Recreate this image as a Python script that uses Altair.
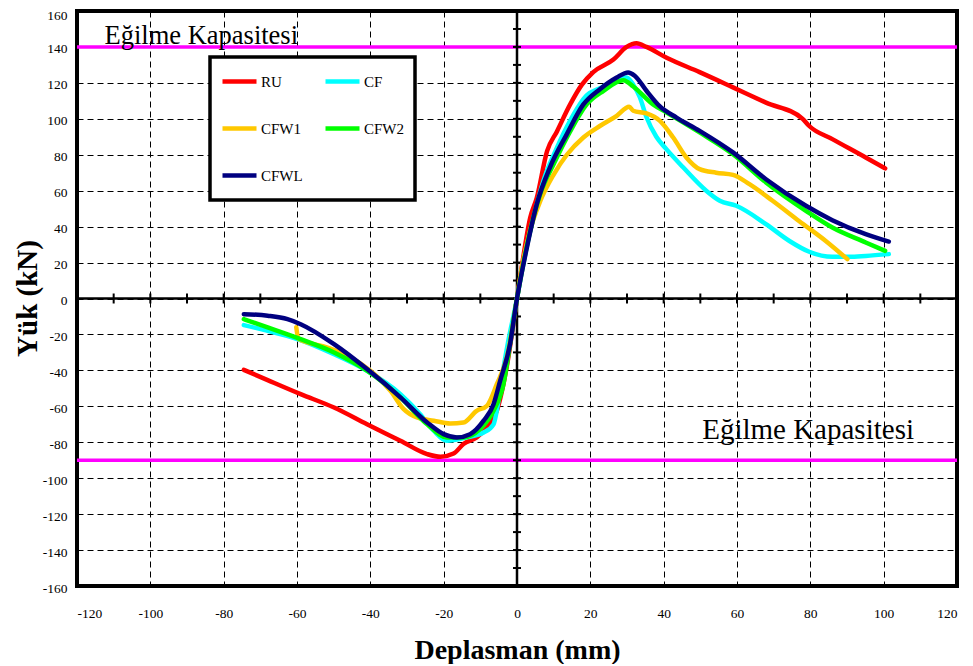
import altair as alt
import pandas as pd

# ---------------- data ----------------
series = ["RU", "CF", "CFW1", "CFW2", "CFWL"]
colors = ["#FF0000", "#00FFFF", "#FFC800", "#00FF00", "#000080"]

ru_x = [-74.5, -68, -59, -49.9, -40.9, -31.8, -24.5, -20.9, -17.3, -14.6, -11, -8.2, -5.5, -2.8, 0,
        1.4, 3.6, 5.4, 8.2, 10.9, 14.5, 17.7, 20.8, 26.3, 29.9, 32.6, 35.3, 40.8, 49.8, 58.9, 67.9,
        77.9, 79.7, 86, 95.1, 100.4]
ru_y = [-39.7, -45.4, -53.2, -60.7, -70, -79.2, -86.6, -88.1, -86.3, -81, -77.3, -71.8, -62.5, -38, 0,
        19, 45, 56, 82, 93, 108, 119, 126, 133, 140, 142, 140, 134, 126, 117.5, 109,
        100, 96, 88.7, 78.5, 72.4]

cf_x = [-74.5, -68, -59.9, -49.9, -40.9, -31.8, -26.4, -22.7, -19.1, -13.7, -9.1, -6.4, -5.3, -4.2, -2.5, 0,
        1.8, 4.5, 7.2, 10.9, 14.5, 19, 22.6, 26.3, 29.9, 31.7, 33.5, 35.3, 38, 40.8, 45.3, 51.6, 55.3,
        59.8, 67.9, 74.3, 79.7, 86, 90.6, 95.1, 101.4]
cf_y = [-14.8, -18, -22.6, -31, -40.2, -53.2, -64.4, -73.6, -79.2, -77.3, -74.6, -70, -60, -45, -25, 0,
        21, 45, 65.5, 84, 99, 113, 117, 121, 123, 119, 112, 101, 90, 83, 73, 60, 54.4,
        51.6, 41.4, 32, 26, 23.2, 23.2, 23.7, 24.7]

cfw1_x = [-60.2, -59.6, -51.7, -45.4, -40, -34.5, -30.9, -27.3, -22.7, -18.2, -14.6, -11, -8.2, -5.5, -2.8, 0,
          0.9, 3.6, 6.3, 10, 13.6, 18.1, 22.6, 27.2, 30.6, 31.7, 35.3, 38.9, 42.6, 46.2, 49.8, 54.3,
          58.9, 63.4, 69.7, 77, 84.2, 90.1]
cfw1_y = [-16, -22.5, -27.3, -32.8, -40.2, -51.4, -61.6, -66.2, -68, -69.6, -69, -62.5, -59.7, -47.7, -32.8, 0,
          12, 38, 54, 69, 80, 89.6, 96, 101.7, 106.7, 104.5, 103, 99, 89.6, 78.5, 72, 70,
          68.8, 63.6, 54.4, 43, 32, 21.9]

cfw2_x = [-74.5, -68, -59, -49.9, -40.9, -31.8, -24.5, -19.1, -14.6, -10.1, -6.4, -3.7, -1.8, 0,
          1.8, 3.6, 6.3, 10, 14.5, 19, 23.6, 29, 31.7, 37.1, 40.8, 49.8, 58.9, 67.9, 78.8, 86, 95.1, 100.4]
cfw2_y = [-11.5, -16.1, -22.6, -30, -40.2, -55, -70, -77.3, -77.3, -72.7, -62.5, -47.7, -24, 0,
          20, 37.7, 58, 74.8, 93, 108, 115.6, 121.5, 118, 108, 103.5, 92.4, 80.3, 64.6, 48.8, 39.5, 31.2, 26.5]

cfwl_x = [-74.5, -68, -62.6, -59, -49.9, -40.9, -31.8, -24.5, -20, -16.4, -12.8, -9.1, -6.4, -4.6, -1.9, 0,
          2.7, 5.4, 9, 13.6, 18.1, 22.6, 27.2, 30.3, 32.1, 35.3, 38.9, 43.5, 49.8, 58.9, 67.9, 78.8, 86,
          95.1, 101.4]
cfwl_y = [-8.7, -9.6, -11.5, -14.3, -25.4, -39.3, -55, -69, -75.5, -77.3, -75.5, -68, -58.8, -45.8, -25.4, 0,
          28.4, 52.5, 73, 91.5, 108, 116.5, 123, 125.8, 124, 115.6, 107, 100.7, 93.3, 81.3, 66.4, 51.6, 43.6,
          35.8, 31.7]

capacity = [140, -90]
capacity_label = "Eğilme Kapasitesi"

x_ticks = list(range(-120, 121, 20))
y_ticks = list(range(-160, 161, 20))
x_minor = list(range(-110, 111, 10))
y_minor = list(range(-150, 151, 10))

# ---------------- tables ----------------
rows = []
for name, xs, ys in [("RU", ru_x, ru_y), ("CF", cf_x, cf_y), ("CFW1", cfw1_x, cfw1_y),
                     ("CFW2", cfw2_x, cfw2_y), ("CFWL", cfwl_x, cfwl_y)]:
    for i, (xv, yv) in enumerate(zip(xs, ys)):
        rows.append({"series": name, "x": xv, "y": yv, "i": i})
df = pd.DataFrame(rows)

FONT = "Liberation Serif"
xscale = alt.Scale(domain=[-120, 120], nice=False, zero=False)
yscale = alt.Scale(domain=[-160, 160], nice=False, zero=False)

xaxis = alt.Axis(values=x_ticks, title="Deplasman (mm)", grid=True, gridDash=[6, 4], gridColor="black",
                 gridWidth=1, gridOpacity=1, ticks=False, domain=False, labelFont=FONT, labelFontSize=13.5,
                 labelColor="black", labelPadding=20, labelOverlap=False, labelExpr="'' + datum.value",
                 titleFont=FONT, titleFontSize=28,
                 titleFontWeight="bold", titleColor="black", titleBaseline="alphabetic",
                 titleAlign="center", titleY=72, titleX=440)
yaxis = alt.Axis(values=y_ticks, title="Yük (kN)", grid=True, gridDash=[6, 4], gridColor="black",
                 gridWidth=1, gridOpacity=1, ticks=False, domain=False, labelFont=FONT, labelFontSize=13.5,
                 labelColor="black", labelPadding=10, labelOverlap=False, labelSeparation=0,
                 labelOffset={"condition": {"test": "datum.value == 160", "value": 4}, "value": 2},
                 labelExpr="'' + datum.value",
                 titleFont=FONT, titleFontSize=29,
                 titleFontWeight="bold", titleColor="black", titleBaseline="alphabetic",
                 titleAlign="center", titleX=-41, titleY=287)


def X(field):
    return alt.X(field, scale=xscale, axis=xaxis, title="Deplasman (mm)")


def Y(field):
    return alt.Y(field, scale=yscale, axis=yaxis, title="Yük (kN)")


def XD(v):
    return alt.XDatum(v, type="quantitative", scale=xscale, axis=xaxis, title="Deplasman (mm)")


def YD(v):
    return alt.YDatum(v, type="quantitative", scale=yscale, axis=yaxis, title="Yük (kN)")


lines = alt.Chart(df).mark_line(strokeWidth=4.5, interpolate="monotone", strokeCap="round",
                                strokeJoin="round").encode(
    x=X("x:Q"),
    y=Y("y:Q"),
    color=alt.Color("series:N", sort=series, scale=alt.Scale(domain=series, range=colors),
                    legend=alt.Legend(title=None, orient="none", legendX=133, legendY=46,
                                      columns=2, direction="horizontal", symbolType="stroke",
                                      symbolSize=1156, symbolStrokeWidth=4.5, labelFont=FONT,
                                      labelFontSize=15, labelColor="black", strokeColor="black",
                                      fillColor="white", padding=10, rowPadding=18,
                                      columnPadding=20, clipHeight=29, labelOffset=2)),
    order=alt.Order("i:Q"),
)

cap_df = pd.DataFrame({"cap": capacity})
cap_rules = alt.Chart(cap_df).mark_rule(color="#FF00FF", strokeWidth=3.5).encode(y=Y("cap:Q"))

zero_df = pd.DataFrame({"z": [0]})
zero_h = alt.Chart(zero_df).mark_rule(color="black", strokeWidth=2.5).encode(y=Y("z:Q"))
zero_v = alt.Chart(zero_df).mark_rule(color="black", strokeWidth=2.5).encode(x=X("z:Q"))

xm_df = pd.DataFrame({"v": x_minor})
ym_df = pd.DataFrame({"v": y_minor})
x_minor_ticks = alt.Chart(xm_df).mark_tick(orient="vertical", size=10, thickness=2, color="black",
                                           opacity=1).encode(x=X("v:Q"), y=YD(0))
y_minor_ticks = alt.Chart(ym_df).mark_tick(orient="horizontal", size=8, thickness=2, color="black",
                                           opacity=1).encode(x=XD(0), y=Y("v:Q"))

txt_top = alt.Chart(zero_df).mark_text(text=capacity_label, font=FONT, fontSize=26.5, align="left",
                                       baseline="alphabetic", color="black").encode(
    x=XD(-112.5), y=YD(141.7))
txt_bot = alt.Chart(zero_df).mark_text(text=capacity_label, font=FONT, fontSize=29, align="left",
                                       baseline="alphabetic", color="black").encode(
    x=XD(50.5), y=YD(-78))

chart = alt.layer(
    cap_rules, zero_h, zero_v, x_minor_ticks, y_minor_ticks, lines, txt_top, txt_bot
).properties(
    width=880, height=575,
    autosize=alt.AutoSizeParams(type="none"),
    padding={"left": 69, "top": 3, "right": 8, "bottom": 78},
    background="white",
).configure_view(stroke="black", strokeWidth=4).configure_legend(strokeWidth=3.5)

chart.save("out.html", embed_options={"renderer": "svg", "actions": False})
